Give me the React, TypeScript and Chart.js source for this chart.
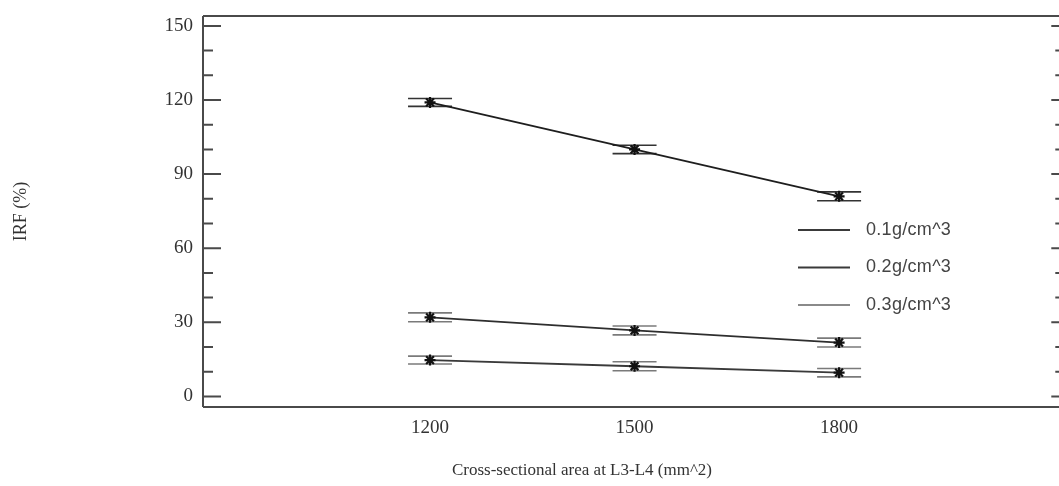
import React, { useEffect, useRef } from "react";
import { Chart, registerables } from "chart.js";

Chart.register(...registerables);

// Cross-sectional areas (mm^2)
const areas = [1200, 1500, 1800];
// IRF (%) for each density
const irfLow = [119, 100, 81];
const irfMid = [32, 26.7, 21.8];
const irfHigh = [14.7, 12.2, 9.6];
// Half-widths of the error bars (%)
const errLow = [1.6, 1.7, 1.8];
const errMid = [1.8, 1.8, 1.8];
const errHigh = [1.6, 1.8, 1.7];

const seriesLabels = ["0.1g/cm^3", "0.2g/cm^3", "0.3g/cm^3"];
const yTickValues = [0, 30, 60, 90, 120, 150];
const yMinorValues = [10, 20, 40, 50, 70, 80, 100, 110, 130, 140];
const xTickValues = [1200, 1500, 1800];
const xTitle = "Cross-sectional area at L3-L4 (mm^2)";

const lineColors = ["#1e1e1e", "#2e2e2e", "#3a3a3a"];
const capColors = ["#333333", "#7a7a7a", "#7a7a7a"];
const legendColors = ["#3a3a3a", "#3a3a3a", "#8a8a8a"];
const axisColor = "#4a4a4a";
const serif = '"Liberation Serif", "Times New Roman", serif';

const frameAndExtras = {
  id: "frameAndExtras",
  beforeDatasetsDraw(chart: any) {
    const ctx = chart.ctx;
    const ys = chart.scales.y;
    ctx.save();
    // error bar caps
    chart.data.datasets.forEach((ds: any, i: number) => {
      const meta = chart.getDatasetMeta(i);
      ctx.strokeStyle = capColors[i];
      ctx.lineWidth = 1.6;
      meta.data.forEach((pt: any, j: number) => {
        const v = ds.data[j].y;
        const e = ds.errors[j];
        const x = pt.x;
        for (const yy of [ys.getPixelForValue(v + e), ys.getPixelForValue(v - e)]) {
          ctx.beginPath();
          ctx.moveTo(x - 22, yy);
          ctx.lineTo(x + 22, yy);
          ctx.stroke();
        }
      });
    });
    ctx.restore();
  },
  afterDraw(chart: any) {
    const ctx = chart.ctx;
    const { left, right, top, bottom } = chart.chartArea;
    const ys = chart.scales.y;
    ctx.save();
    ctx.strokeStyle = axisColor;
    ctx.lineWidth = 2;
    // frame: left, top, bottom
    ctx.beginPath();
    ctx.moveTo(left, top);
    ctx.lineTo(right, top);
    ctx.moveTo(left, top);
    ctx.lineTo(left, bottom);
    ctx.moveTo(left, bottom);
    ctx.lineTo(right, bottom);
    ctx.stroke();
    // inward ticks on the left and right sides
    for (const v of yTickValues) {
      const y = ys.getPixelForValue(v);
      ctx.beginPath();
      ctx.moveTo(left, y);
      ctx.lineTo(left + 18, y);
      ctx.moveTo(right, y);
      ctx.lineTo(right - 8, y);
      ctx.stroke();
    }
    for (const v of yMinorValues) {
      const y = ys.getPixelForValue(v);
      ctx.beginPath();
      ctx.moveTo(left, y);
      ctx.lineTo(left + 10, y);
      ctx.moveTo(right, y);
      ctx.lineTo(right - 4, y);
      ctx.stroke();
    }
    // x axis title
    ctx.fillStyle = "#333";
    ctx.font = `17px ${serif}`;
    ctx.textAlign = "center";
    ctx.textBaseline = "middle";
    ctx.fillText(xTitle, left + 379, bottom + 64);
    // legend
    ctx.font = '18px "Liberation Sans", Arial, sans-serif';
    (ctx as any).letterSpacing = "0.3px";
    ctx.textBaseline = "middle";
    ctx.textAlign = "left";
    chart.data.datasets.forEach((ds: any, i: number) => {
      const ly = top + 214 + i * 37.5;
      const lx = left + 595;
      ctx.strokeStyle = legendColors[i];
      ctx.lineWidth = 2;
      ctx.beginPath();
      ctx.moveTo(lx, ly);
      ctx.lineTo(lx + 52, ly);
      ctx.stroke();
      ctx.fillStyle = "#444";
      ctx.fillText(ds.label, lx + 68, ly);
    });
    ctx.restore();
  },
};

function makeSeries(values: number[], errors: number[], label: string, idx: number) {
  return {
    label,
    data: areas.map((a, k) => ({ x: a, y: values[k] })),
    errors,
    borderColor: lineColors[idx],
    backgroundColor: "#111",
    borderWidth: 1.8,
    pointStyle: "star",
    pointRadius: 5.5,
    pointBorderWidth: 2.2,
    pointBorderColor: "#111",
    fill: false,
    tension: 0,
  };
}

export default function App() {
  const canvasRef = useRef<HTMLCanvasElement | null>(null);

  useEffect(() => {
    if (!canvasRef.current) return;
    const chart = new Chart(canvasRef.current, {
      type: "line",
      data: {
        datasets: [
          makeSeries(irfLow, errLow, seriesLabels[0], 0),
          makeSeries(irfMid, errMid, seriesLabels[1], 1),
          makeSeries(irfHigh, errHigh, seriesLabels[2], 2),
        ] as any,
      },
      options: {
        animation: false,
        responsive: true,
        maintainAspectRatio: false,
        layout: { padding: { top: 16, left: 0, right: 0, bottom: 0 } },
        plugins: {
          legend: { display: false },
          tooltip: { enabled: false },
        },
        scales: {
          x: {
            type: "linear",
            min: 867,
            max: 2123,
            grid: { display: false, drawTicks: false },
            border: { display: false },
            afterBuildTicks: (scale: any) => {
              scale.ticks = xTickValues.map((v) => ({ value: v }));
            },
            afterFit: (scale: any) => {
              scale.height = 79;
              scale.paddingLeft = 0;
              scale.paddingRight = 0;
            },
            ticks: {
              padding: 10,
              color: "#333",
              font: { family: serif, size: 19 },
              maxRotation: 0,
              autoSkip: false,
              callback: (v: any) => String(v),
            },
          },
          y: {
            type: "linear",
            min: -4.3,
            max: 154,
            grid: { display: false, drawTicks: false },
            border: { display: false },
            afterBuildTicks: (scale: any) => {
              scale.ticks = yTickValues.map((v) => ({ value: v }));
            },
            afterFit: (scale: any) => {
              scale.width = 203;
              scale.paddingTop = 0;
              scale.paddingBottom = 0;
            },
            ticks: {
              padding: 10,
              color: "#333",
              font: { family: serif, size: 19 },
              callback: (v: any) => String(v),
            },
            title: {
              display: true,
              text: "IRF (%)",
              color: "#333",
              font: { family: serif, size: 18 },
              padding: { top: 10, bottom: 0 },
            },
          },
        },
      },
      plugins: [frameAndExtras],
    } as any);
    return () => chart.destroy();
  }, []);

  return (
    <div style={{ position: "absolute", left: 0, top: 0, width: 1059, height: 486, overflow: "hidden", background: "#fff" }}>
      <div style={{ position: "relative", width: 1067, height: 486 }}>
        <canvas ref={canvasRef} />
      </div>
    </div>
  );
}
